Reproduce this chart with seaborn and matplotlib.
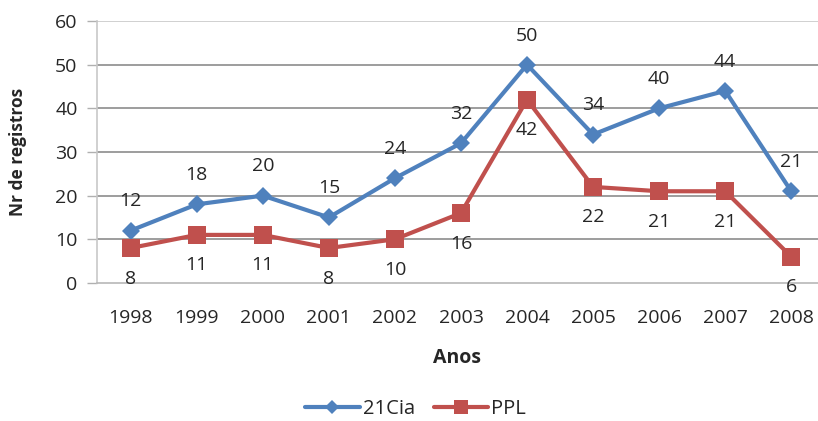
import pandas as pd
import numpy as np
import matplotlib.pyplot as plt
import seaborn as sns

# data
anos = [1998, 1999, 2000, 2001, 2002, 2003, 2004, 2005, 2006, 2007, 2008]
cia21 = [12, 18, 20, 15, 24, 32, 50, 34, 40, 44, 21]
ppl = [8, 11, 11, 8, 10, 16, 42, 22, 21, 21, 6]
series_names = ['21Cia', 'PPL']
y_ticks = [0, 10, 20, 30, 40, 50, 60]

df = pd.DataFrame({
    'Anos': anos * 2,
    'valor': cia21 + ppl,
    'serie': ['21Cia'] * len(anos) + ['PPL'] * len(anos),
})

sns.set_style('white')
plt.rcParams['font.family'] = ['Open Sans', 'DejaVu Sans']

blue = '#4F81BD'
red = '#C0504D'
txt = '#262626'
fs = 14

fig = plt.figure(figsize=(8.18, 4.21), dpi=100)
ax = fig.add_axes([0.1186, 0.328, 0.881, 0.622])

sns.lineplot(data=df, x='Anos', y='valor', hue='serie', style='serie',
             palette={'21Cia': blue, 'PPL': red},
             markers={'21Cia': 'D', 'PPL': 's'}, dashes=False,
             linewidth=3, ax=ax, legend=False)
# marker sizes differ per series
for line, ms in zip(ax.get_lines(), [9, 13]):
    line.set_markersize(ms)
    line.set_markeredgewidth(0)

# value labels: blue above, red below
for x, v in zip(anos, cia21):
    ax.annotate(str(v), (x, v), xytext=(0, 21), textcoords='offset points',
                ha='center', va='center', fontsize=fs, color=txt)
for x, v in zip(anos, ppl):
    ax.annotate(str(v), (x, v), xytext=(0, -22), textcoords='offset points',
                ha='center', va='center', fontsize=fs, color=txt)

ax.set_xlim(1997.49, 2008.4)
ax.set_ylim(0, 60)
ax.set_xticks(anos)
ax.set_xticklabels([str(a) for a in anos])
ax.set_yticks(y_ticks)
ax.tick_params(axis='x', length=0, pad=19, labelsize=fs, labelcolor=txt)
ax.tick_params(axis='y', length=7, width=1, color='#b0b0b0', pad=7,
               labelsize=fs, labelcolor=txt, left=True)

# grid lines: inner ones darker
for y in y_ticks[1:-1]:
    ax.axhline(y, color='#8c8c8c', lw=1.2, zorder=0)
ax.axhline(60, color='#c8c8c8', lw=1.2, zorder=0)
for s in ['top', 'right']:
    ax.spines[s].set_visible(False)
ax.spines['left'].set_color('#c8c8c8')
ax.spines['bottom'].set_color('#b8b8b8')
ax.spines['left'].set_linewidth(1.2)
ax.spines['bottom'].set_linewidth(1.2)

ax.set_xlabel('Anos', fontsize=fs, fontweight='bold', color=txt, labelpad=15)
ax.set_ylabel('Nr de registros', fontsize=12.5, fontweight='bold', color=txt)
ax.yaxis.set_label_coords(-0.097, 0.5)

handles = [plt.Line2D([], [], color=blue, lw=3, marker='D', ms=7, mew=0),
           plt.Line2D([], [], color=red, lw=3, marker='s', ms=10, mew=0)]
fig.legend(handles, series_names, loc='center', bbox_to_anchor=(0.508, 12 / 421),
           ncol=2, frameon=False, fontsize=14.5, handlelength=2.7,
           columnspacing=0.95, handletextpad=0.15, borderpad=0.2)

fig.savefig('out.png', dpi=100)
